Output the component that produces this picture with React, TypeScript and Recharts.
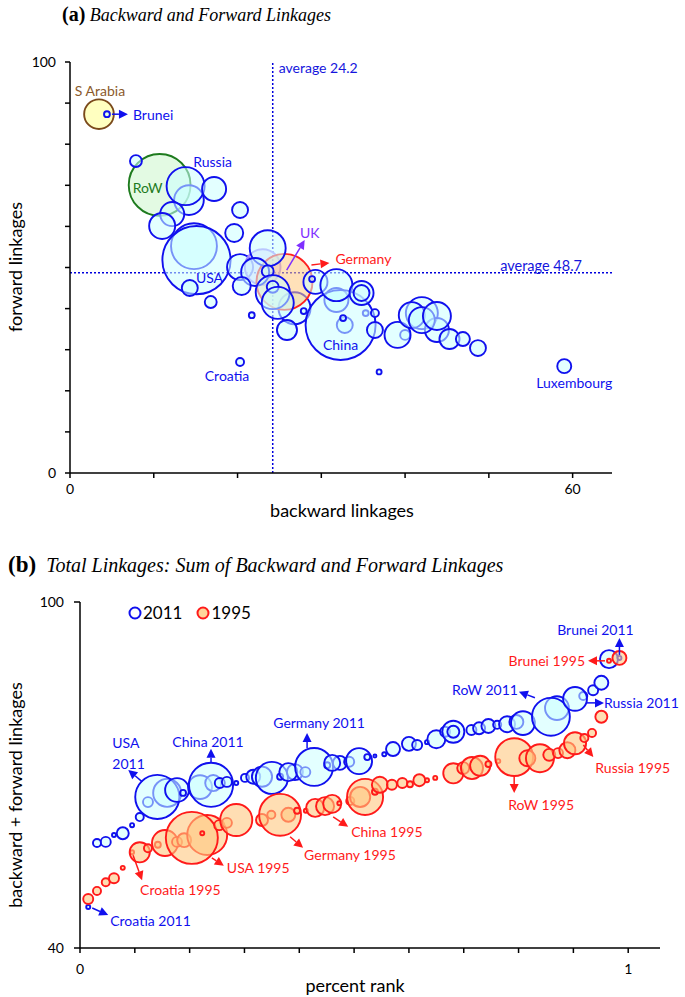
import { ScatterChart, Scatter, XAxis, YAxis, ZAxis, ReferenceLine } from 'recharts'

const SANS = 'Lato, "Open Sans", sans-serif'
const SERIF = '"Liberation Serif", "DejaVu Serif", serif'

const BLUE = '#1010ee'
const RED = '#ff1a1a'

// ---------- panel (a): backward (x) / forward (y) linkages, z = size weight ----------
const rowA = [{ name: 'RoW', x: 10.7, y: 70.1, z: 78 }]
const saudiA = [{ name: 'S Arabia', x: 3.46, y: 87.3, z: 18 }]
const ukA = [{ name: 'UK', x: 23.0, y: 50.1, z: 26 }]
const germanyA = [{ name: 'Germany', x: 25.6, y: 46.5, z: 64 }]

const blueBackA = [
  { name: 'Brunei', x: 4.41, y: 87.3, z: 0.7 },
  { x: 7.87, y: 75.9, z: 2.9 },
  { x: 14.2, y: 66.4, z: 18 },
  { name: 'Russia', x: 13.8, y: 69.8, z: 29.5 },
  { x: 17.2, y: 69.1, z: 11.8 },
  { x: 12.2, y: 63.0, z: 11.8 },
  { x: 11.0, y: 60.1, z: 13.8 },
  { x: 20.3, y: 64.0, z: 5.2 },
  { x: 19.6, y: 58.4, z: 6.6 },
  { x: 14.8, y: 55.2, z: 43 },
  { name: 'USA', x: 15.1, y: 51.8, z: 95 },
  { x: 14.3, y: 45.0, z: 5.2 },
  { x: 16.8, y: 41.6, z: 2.9 },
  { x: 20.3, y: 50.1, z: 13.8 },
  { x: 26.8, y: 40.1, z: 20.9 },
]

const blueFrontA = [
  { x: 23.6, y: 54.7, z: 26.4 },
  { x: 22.1, y: 48.9, z: 16 },
  { x: 20.5, y: 45.5, z: 6.6 },
  { x: 23.6, y: 49.1, z: 2.9 },
  { x: 24.2, y: 44.0, z: 23.6 },
  { x: 24.2, y: 45.3, z: 2.9 },
  { x: 24.8, y: 41.4, z: 20.9 },
  { x: 25.9, y: 34.8, z: 8.2 },
  { x: 21.7, y: 38.4, z: 0.7 },
  { x: 27.9, y: 39.4, z: 0.7 },
  { x: 29.3, y: 46.5, z: 11.8 },
  { x: 28.9, y: 47.2, z: 0.7 },
  { x: 31.8, y: 42.1, z: 11.8 },
  { x: 32.8, y: 36.0, z: 5.2 },
  { x: 35.3, y: 38.9, z: 0.7 },
  { name: 'China', x: 32.3, y: 36.0, z: 100 },
  { x: 31.8, y: 45.7, z: 20.9 },
  { x: 34.8, y: 43.8, z: 11.8 },
  { x: 34.8, y: 43.8, z: 5.2 },
  { x: 32.6, y: 37.7, z: 0.7 },
  { x: 36.4, y: 38.9, z: 1.3 },
  { x: 36.4, y: 34.8, z: 5.2 },
  { name: 'Croatia', x: 20.3, y: 27.0, z: 1.3 },
  { x: 36.9, y: 24.6, z: 0.5 },
  { x: 40.0, y: 33.6, z: 2 },
  { x: 42.0, y: 38.9, z: 20.9 },
  { x: 43.8, y: 34.8, z: 11.8 },
  { x: 39.1, y: 33.6, z: 13.8 },
  { x: 40.8, y: 38.4, z: 13.8 },
  { x: 42.0, y: 37.2, z: 13.8 },
  { x: 43.8, y: 38.2, z: 16 },
  { x: 45.3, y: 32.6, z: 8.2 },
  { x: 46.9, y: 32.6, z: 4 },
  { x: 48.7, y: 30.4, z: 5.2 },
  { name: 'Luxembourg', x: 59.0, y: 26.0, z: 4 },
]

const xTicksA = [0, 10, 20, 30, 40, 50, 60]
const yTicksA = [0, 10, 20, 30, 40, 50, 60, 70, 80, 90, 100]
const AVG_BACK = 24.2
const AVG_FWD = 48.7

// ---------- panel (b): percent rank vs total linkages ----------
const y2011 = [
  { name: 'Croatia', x: 0.015, y: 47.1, z: 0.6 },
  { x: 0.031, y: 58.2, z: 2.4 },
  { x: 0.047, y: 58.4, z: 3.7 },
  { x: 0.062, y: 59.6, z: 0.6 },
  { x: 0.078, y: 59.9, z: 5.3 },
  { x: 0.095, y: 61.3, z: 0.6 },
  { x: 0.109, y: 62.7, z: 2.4 },
  { x: 0.159, y: 66.9, z: 29 },
  { x: 0.124, y: 65.3, z: 3.7 },
  { name: 'USA', x: 0.141, y: 66.2, z: 72 },
  { x: 0.177, y: 67.4, z: 21 },
  { x: 0.188, y: 66.9, z: 1.3 },
  { x: 0.219, y: 67.9, z: 21 },
  { x: 0.243, y: 68.6, z: 9.5 },
  { name: 'China', x: 0.239, y: 68.3, z: 72 },
  { x: 0.255, y: 68.6, z: 3.7 },
  { x: 0.268, y: 68.8, z: 3.7 },
  { x: 0.285, y: 68.6, z: 0.6 },
  { x: 0.301, y: 69.5, z: 2.4 },
  { x: 0.316, y: 69.7, z: 7.2 },
  { x: 0.332, y: 69.7, z: 15 },
  { x: 0.35, y: 69.5, z: 38 },
  { x: 0.365, y: 69.7, z: 1.3 },
  { x: 0.392, y: 70.5, z: 9.5 },
  { x: 0.38, y: 70.5, z: 12 },
  { x: 0.411, y: 70.5, z: 3.7 },
  { name: 'Germany', x: 0.427, y: 71.4, z: 53 },
  { x: 0.451, y: 71.7, z: 1.3 },
  { x: 0.474, y: 72.1, z: 7.2 },
  { x: 0.46, y: 72.1, z: 9.5 },
  { x: 0.491, y: 72.3, z: 3.7 },
  { x: 0.509, y: 72.4, z: 25 },
  { x: 0.524, y: 73.1, z: 1.3 },
  { x: 0.538, y: 73.3, z: 0.33 },
  { x: 0.555, y: 73.6, z: 0.6 },
  { x: 0.571, y: 74.5, z: 7.2 },
  { x: 0.6, y: 75.4, z: 7.2 },
  { x: 0.615, y: 75.2, z: 3.7 },
  { x: 0.633, y: 75.7, z: 0.6 },
  { x: 0.65, y: 76.2, z: 12 },
  { x: 0.666, y: 77.5, z: 3.7 },
  { x: 0.681, y: 77.5, z: 18 },
  { x: 0.681, y: 77.5, z: 5.3 },
  { x: 0.714, y: 77.8, z: 3.7 },
  { x: 0.728, y: 78.1, z: 5.3 },
  { x: 0.745, y: 78.5, z: 7.2 },
  { x: 0.761, y: 78.7, z: 2.4 },
  { x: 0.779, y: 78.8, z: 9.5 },
  { x: 0.796, y: 79.2, z: 7.2 },
  { x: 0.808, y: 79.0, z: 21 },
  { x: 0.87, y: 81.6, z: 21 },
  { name: 'RoW', x: 0.859, y: 80.1, z: 53 },
  { x: 0.918, y: 83.7, z: 2.4 },
  { name: 'Russia', x: 0.903, y: 83.2, z: 21 },
  { x: 0.936, y: 84.7, z: 3.7 },
  { x: 0.951, y: 86.0, z: 7.2 },
  { x: 0.965, y: 90.1, z: 12 },
  { name: 'Brunei', x: 0.984, y: 90.3, z: 0.6 },
]

const y1995 = [
  { x: 0.015, y: 48.5, z: 3.7 },
  { x: 0.031, y: 49.9, z: 2.4 },
  { x: 0.047, y: 51.4, z: 2.4 },
  { x: 0.062, y: 52.1, z: 3.7 },
  { x: 0.078, y: 53.9, z: 0.6 },
  { name: 'Croatia', x: 0.095, y: 56.6, z: 0.6 },
  { x: 0.109, y: 56.6, z: 15 },
  { x: 0.124, y: 57.3, z: 2.4 },
  { x: 0.142, y: 57.9, z: 1.3 },
  { x: 0.155, y: 58.2, z: 25 },
  { x: 0.177, y: 58.4, z: 3.7 },
  { x: 0.19, y: 58.7, z: 7.2 },
  { x: 0.232, y: 59.6, z: 59 },
  { name: 'USA', x: 0.204, y: 59.1, z: 100 },
  { x: 0.223, y: 59.9, z: 0.6 },
  { x: 0.254, y: 61.3, z: 3.7 },
  { x: 0.268, y: 61.7, z: 3.7 },
  { x: 0.285, y: 62.2, z: 38 },
  { x: 0.332, y: 62.2, z: 5.3 },
  { x: 0.349, y: 63.1, z: 2.4 },
  { x: 0.38, y: 63.1, z: 7.2 },
  { name: 'Germany', x: 0.365, y: 63.1, z: 65 },
  { x: 0.396, y: 63.8, z: 1.3 },
  { x: 0.412, y: 63.8, z: 0.6 },
  { x: 0.429, y: 64.3, z: 12 },
  { x: 0.447, y: 64.6, z: 12 },
  { name: 'China', x: 0.46, y: 65.0, z: 12 },
  { x: 0.473, y: 65.1, z: 0.6 },
  { x: 0.493, y: 65.5, z: 2.4 },
  { x: 0.511, y: 66.2, z: 15 },
  { x: 0.52, y: 66.2, z: 48 },
  { x: 0.538, y: 67.1, z: 1.3 },
  { x: 0.547, y: 68.3, z: 9.5 },
  { x: 0.569, y: 68.3, z: 3.7 },
  { x: 0.588, y: 68.6, z: 3.7 },
  { x: 0.602, y: 68.4, z: 1.3 },
  { x: 0.619, y: 69.1, z: 5.3 },
  { x: 0.633, y: 69.1, z: 0.6 },
  { x: 0.648, y: 69.5, z: 0.6 },
  { x: 0.681, y: 70.3, z: 15 },
  { x: 0.699, y: 71.2, z: 5.3 },
  { x: 0.715, y: 71.2, z: 18 },
  { x: 0.73, y: 71.6, z: 15 },
  { x: 0.745, y: 71.9, z: 1.3 },
  { x: 0.763, y: 72.4, z: 0.6 },
  { name: 'RoW', x: 0.792, y: 73.1, z: 53 },
  { x: 0.816, y: 72.9, z: 9.5 },
  { x: 0.839, y: 72.9, z: 29 },
  { x: 0.856, y: 73.5, z: 5.3 },
  { x: 0.872, y: 73.8, z: 3.7 },
  { x: 0.889, y: 74.3, z: 9.5 },
  { x: 0.903, y: 75.5, z: 18 },
  { name: 'Russia', x: 0.92, y: 76.4, z: 2.4 },
  { x: 0.934, y: 77.3, z: 2.4 },
  { x: 0.951, y: 80.1, z: 5.3 },
  { name: 'Brunei', x: 0.965, y: 89.8, z: 0.6 },
  { x: 0.984, y: 90.3, z: 7.2 },
]

const xTicksB = [0, 0.1, 0.2, 0.3, 0.4, 0.5, 0.6, 0.7, 0.8, 0.9, 1]
const yTicksB = [40, 100]

// annotation offsets (px) from the labelled point
const notesA = [
  { src: saudiA, name: 'S Arabia', text: ['S Arabia'], color: '#8b5a2b', dx: 1, dy: -24 },
  { src: blueBackA, name: 'Brunei', text: ['Brunei'], color: BLUE, dx: 26, dy: 0, anchor: 'start', arrow: [5, 0, 21, 0] },
  { src: blueBackA, name: 'Russia', text: ['Russia'], color: BLUE, dx: 27, dy: -25 },
  { src: rowA, name: 'RoW', text: ['RoW'], color: '#1e7b1e', dx: -12, dy: 3 },
  { src: blueBackA, name: 'USA', text: ['USA'], color: BLUE, dx: 13, dy: 17 },
  { src: ukA, name: 'UK', text: ['UK'], color: '#7f2fff', dx: 47, dy: -35, arrow: [24, 3, 42, -27] },
  { src: germanyA, name: 'Germany', text: ['Germany'], color: RED, dx: 51, dy: -23, anchor: 'start', arrow: [27, -17, 45, -19] },
  { src: blueFrontA, name: 'China', text: ['China'], color: BLUE, dx: 0, dy: 19 },
  { src: blueFrontA, name: 'Croatia', text: ['Croatia'], color: BLUE, dx: -13, dy: 13 },
  { src: blueFrontA, name: 'Luxembourg', text: ['Luxembourg'], color: BLUE, dx: 10, dy: 16 },
]

const notesB = [
  { src: y2011, name: 'Croatia', text: ['Croatia 2011'], color: BLUE, dx: 22, dy: 13, anchor: 'start', arrow: [4, 1, 20, 8] },
  { src: y1995, name: 'Croatia', text: ['Croatia 1995'], color: RED, dx: 8, dy: 37, anchor: 'start', arrow: [1, 3, 10, 28] },
  { src: y2011, name: 'USA', text: ['USA', '2011'], color: BLUE, dx: -45, dy: -54, anchor: 'start', arrow: [-15, -15, -29, -27] },
  { src: y1995, name: 'USA', text: ['USA 1995'], color: RED, dx: 35, dy: 30, anchor: 'start', arrow: [20, 20, 32, 28] },
  { src: y2011, name: 'China', text: ['China 2011'], color: BLUE, dx: -3, dy: -43, arrow: [0, -22, 0, -36] },
  { src: y1995, name: 'China', text: ['China 1995'], color: RED, dx: 19, dy: 28, anchor: 'start', arrow: [1, 13, 16, 23] },
  { src: y2011, name: 'Germany', text: ['Germany 2011'], color: BLUE, dx: 5, dy: -44, arrow: [-7, -19, -7, -34] },
  { src: y1995, name: 'Germany', text: ['Germany 1995'], color: RED, dx: 24, dy: 40, anchor: 'start', arrow: [10, 22, 23, 33] },
  { src: y2011, name: 'RoW', text: ['RoW 2011'], color: BLUE, dx: -33, dy: -27, anchor: 'end', arrow: [-16, -19, -32, -25] },
  { src: y1995, name: 'RoW', text: ['RoW 1995'], color: RED, dx: -6, dy: 47, anchor: 'start', arrow: [0, 19, 0, 36] },
  { src: y2011, name: 'Russia', text: ['Russia 2011'], color: BLUE, dx: 29, dy: 4, anchor: 'start', arrow: [12, 4, 29, 4] },
  { src: y1995, name: 'Russia', text: ['Russia 1995'], color: RED, dx: 11, dy: 29, anchor: 'start', arrow: [-1, 7, 9, 19] },
  { src: y2011, name: 'Brunei', text: ['Brunei 2011'], color: BLUE, dx: -24, dy: -28, arrow: [0, -3, 0, -20] },
  { src: y1995, name: 'Brunei', text: ['Brunei 1995'], color: RED, dx: -24, dy: 0, anchor: 'end', arrow: [-4, 0, -21, 0] },
]

function placeNotes(notes: any[]) {
  return notes.map((n) => {
    const p = n.src.find((d: any) => d.name === n.name)
    return { ...n, src: undefined, x: p.x, y: p.y }
  })
}

function bubble(stroke: string, fill: string, fillOpacity: number, width = 1.9) {
  return (p: any) => {
    const r = p.width ? p.width / 2 : Math.sqrt((p.size || 0) / Math.PI)
    return (
      <circle cx={p.cx} cy={p.cy} r={Math.max(r, 1.5)} stroke={stroke} strokeWidth={width} fill={fill} fillOpacity={fillOpacity} />
    )
  }
}

function Note(p: any) {
  const n = p.payload
  const { cx, cy } = p
  let arrow = null
  if (n.arrow) {
    const [a, b, c, d] = n.arrow
    const x1 = cx + a, y1 = cy + b, x2 = cx + c, y2 = cy + d
    const ang = Math.atan2(y2 - y1, x2 - x1)
    const L = 9, W = 4.5
    const bx = x2 - L * Math.cos(ang), by = y2 - L * Math.sin(ang)
    const pts = `${x2},${y2} ${bx + W * Math.sin(ang)},${by - W * Math.cos(ang)} ${bx - W * Math.sin(ang)},${by + W * Math.cos(ang)}`
    arrow = (
      <g>
        <line x1={x1} y1={y1} x2={bx} y2={by} stroke={n.color} strokeWidth={1.5} />
        <polygon points={pts} fill={n.color} />
      </g>
    )
  }
  return (
    <g>
      {arrow}
      {n.text.map((t: string, i: number) => (
        <text key={i} x={cx + n.dx} y={cy + n.dy + i * 21} fill={n.color} fontSize={14} fontFamily={SANS}
          textAnchor={n.anchor || 'middle'} dominantBaseline="central">
          {t}
        </text>
      ))}
    </g>
  )
}

const axisStyle = { stroke: '#000', strokeWidth: 1.5 }
const tickStyle = { fill: '#000', fontSize: 14, fontFamily: SANS }

function abs(left: number, top: number, extra: any = {}) {
  return { position: 'absolute' as const, left, top, whiteSpace: 'nowrap' as const, ...extra }
}

export default function App() {
  return (
    <div style={{ position: 'absolute', left: 0, top: 0, width: 685, height: 997, background: '#fff', fontFamily: SANS }}>
      <div style={abs(62, 3, { fontFamily: SERIF, fontSize: 18 })}>
        <b style={{ fontSize: 20 }}>(a)</b> <i>Backward and Forward Linkages</i>
      </div>
      <div style={abs(8, 552, { fontFamily: SERIF, fontSize: 20 })}>
        <b style={{ fontSize: 23 }}>(b)</b>&nbsp; <i>Total Linkages: Sum of Backward and Forward Linkages</i>
      </div>

      <div style={abs(0, 0)}>
        <ScatterChart width={685} height={520} margin={{ top: 62, right: 73, bottom: 17, left: 0 }}>
          <XAxis type="number" dataKey="x" domain={[0, 64.7]} ticks={xTicksA}
            tickFormatter={(v: number) => (v === 0 || v === 60 ? String(v) : '')}
            axisLine={axisStyle} tickLine={axisStyle} tickSize={5} tickMargin={6} tick={tickStyle} height={30} />
          <YAxis type="number" dataKey="y" domain={[0, 100]} ticks={yTicksA}
            tickFormatter={(v: number) => (v === 0 || v === 100 ? String(v) : '')}
            axisLine={axisStyle} tickLine={axisStyle} tickSize={5} tickMargin={9} tick={tickStyle} width={70} />
          <ZAxis type="number" dataKey="z" domain={[0, 100]} range={[0, 3848]} />
          <ReferenceLine x={AVG_BACK} stroke="#0000dd" strokeWidth={1.5} strokeDasharray="2 2"
            label={{ value: 'average 24.2', position: 'insideTopLeft', offset: 1, dx: 5, fill: '#1515dd', fontSize: 14, fontFamily: SANS }} />
          <ReferenceLine y={AVG_FWD} stroke="#0000dd" strokeWidth={1.5} strokeDasharray="2 2"
            label={{ value: 'average 48.7', position: 'insideBottomRight', offset: 2, dx: -28, fill: '#1515dd', fontSize: 14.5, fontFamily: SANS }} />
          <Scatter data={rowA} isAnimationActive={false} shape={bubble('#1e7b1e', '#c8f5c8', 0.5)} />
          <Scatter data={saudiA} isAnimationActive={false} shape={bubble('#7b4a1b', '#ffffc0', 1)} />
          <Scatter data={blueBackA} isAnimationActive={false} shape={bubble(BLUE, '#ccffff', 0.55)} />
          <Scatter data={ukA} isAnimationActive={false} shape={bubble('#a385ff', '#d8ccff', 0.6)} />
          <Scatter data={germanyA} isAnimationActive={false} shape={bubble('#ff2020', '#ffc880', 0.55)} />
          <Scatter data={blueFrontA} isAnimationActive={false} shape={bubble(BLUE, '#ccffff', 0.55)} />
          <Scatter data={placeNotes(notesA)} isAnimationActive={false} shape={(p: any) => <Note {...p} />} />
        </ScatterChart>
      </div>
      <div style={abs(342, 510, { transform: 'translate(-50%,-50%)', fontSize: 18 })}>backward linkages</div>
      <div style={abs(15, 267, { transform: 'translate(-50%,-50%) rotate(-90deg)', fontSize: 18 })}>forward linkages</div>

      <div style={abs(0, 540)}>
        <ScatterChart width={685} height={457} margin={{ top: 62, right: 25, bottom: 19, left: 0 }}>
          <XAxis type="number" dataKey="x" domain={[0, 1.058]} ticks={xTicksB}
            tickFormatter={(v: number) => (v === 0 || v === 1 ? String(v) : '')}
            axisLine={axisStyle} tickLine={axisStyle} tickSize={5} tickMargin={11} tick={tickStyle} height={30} />
          <YAxis type="number" dataKey="y" domain={[40, 100]} ticks={yTicksB}
            axisLine={axisStyle} tickLine={axisStyle} tickSize={6} tickMargin={10} tick={tickStyle} width={80} />
          <ZAxis type="number" dataKey="z" domain={[0, 100]} range={[0, 2124]} />
          <Scatter data={y2011} isAnimationActive={false} shape={bubble(BLUE, '#ccffff', 0.55)} />
          <Scatter data={y1995} isAnimationActive={false} shape={bubble(RED, '#ffc880', 0.6)} />
          <Scatter data={placeNotes(notesB)} isAnimationActive={false} shape={(p: any) => <Note {...p} />} />
        </ScatterChart>
      </div>
      <div style={abs(128, 602, { fontSize: 17, display: 'flex', alignItems: 'center' })}>
        <svg width={14} height={14}><circle cx={7} cy={7} r={5.5} stroke={BLUE} strokeWidth={2} fill="#ffffff" /></svg>
        <span style={{ marginLeft: 1, marginRight: 14 }}>2011</span>
        <svg width={14} height={14}><circle cx={7} cy={7} r={5.5} stroke={RED} strokeWidth={2} fill="#ffd59a" /></svg>
        <span style={{ marginLeft: 1 }}>1995</span>
      </div>
      <div style={abs(355, 985, { transform: 'translate(-50%,-50%)', fontSize: 18 })}>percent rank</div>
      <div style={abs(15, 795, { transform: 'translate(-50%,-50%) rotate(-90deg)', fontSize: 18 })}>backward + forward linkages</div>
    </div>
  )
}
